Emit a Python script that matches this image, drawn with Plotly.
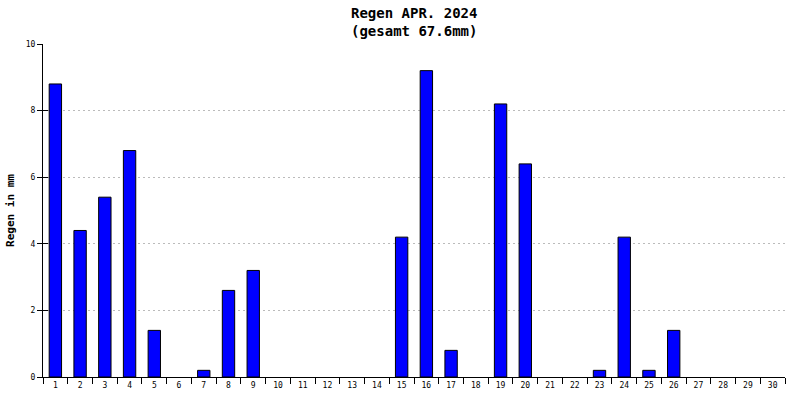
import plotly.graph_objects as go

# Regen pro Tag im April 2024 (mm)
days = [str(d) for d in range(1, 31)]
rain_mm = [8.8, 4.4, 5.4, 6.8, 1.4, 0.0, 0.2, 2.6, 3.2, 0.0,
           0.0, 0.0, 0.0, 0.0, 4.2, 9.2, 0.8, 0.0, 8.2, 6.4,
           0.0, 0.0, 0.2, 4.2, 0.2, 1.4, 0.0, 0.0, 0.0, 0.0]
y_ticks = [0, 2, 4, 6, 8, 10]

total = sum(rain_mm)
FONT = "DejaVu Sans Mono"

fig = go.Figure()

# days without rain get no bar at all (no outline on the axis)
fig.add_trace(go.Bar(
    x=days,
    y=[v if v > 0 else None for v in rain_mm],
    width=0.5,
    marker=dict(color="#0000FF", line=dict(color="black", width=1)),
    hovertemplate="%{x}. Apr: %{y:.1f} mm<extra></extra>",
))

# second y axis only to draw the inner half of the tick marks
fig.add_trace(go.Scatter(x=[days[0]], y=[0], yaxis="y2", mode="markers",
                         marker=dict(opacity=0), hoverinfo="skip"))

fig.update_layout(
    width=800, height=400,
    margin=dict(l=43, r=15, t=44, b=23, autoexpand=False),
    paper_bgcolor="white",
    plot_bgcolor="white",
    showlegend=False,
    font=dict(family=FONT, size=9, color="black"),
    annotations=[
        dict(text="<b>Regen APR. 2024</b>", x=0.5, y=13, xref="paper", yref="paper",
             showarrow=False, font=dict(family=FONT, size=14)),
        dict(text=f"<b>(gesamt {total:.1f}mm)</b>", x=0.5, y=31, xref="paper", yref="paper",
             showarrow=False, font=dict(family=FONT, size=14)),
    ],
    xaxis=dict(
        type="category",
        tickson="boundaries",
        ticks="outside", ticklen=6, tickcolor="black", tickwidth=1,
        showline=True, linecolor="black", linewidth=1,
        showgrid=False,
        tickfont=dict(family=FONT, size=8),
        range=[-0.5, 29.5],
        automargin=False,
    ),
    yaxis=dict(
        range=[0, 10],
        tickvals=y_ticks,
        ticks="outside", ticklen=5, tickcolor="black", tickwidth=1,
        showline=True, linecolor="black", linewidth=1,
        showgrid=True, gridcolor="#BBBBBB", griddash="2px,3px", gridwidth=1,
        zeroline=False,
        tickfont=dict(family=FONT, size=8),
        automargin=False,
        title=dict(text="<b>Regen in mm</b>", font=dict(family=FONT, size=11), standoff=8),
    ),
    yaxis2=dict(
        overlaying="y", side="left", range=[0, 10],
        tickvals=y_ticks, ticks="inside", ticklen=5, tickcolor="black",
        showticklabels=False, showgrid=False, zeroline=False, showline=False,
    ),
)

# place the two title lines in pixels from the top
for ann in fig.layout.annotations:
    ann.update(yref="paper", y=1 + (44 - ann.y) / 333, yanchor="middle")

# drop the browser's default body margin so the chart sits at the page corner
fig.write_html("out.html", config={"displayModeBar": False},
               post_script="document.body.style.margin='0px';")
